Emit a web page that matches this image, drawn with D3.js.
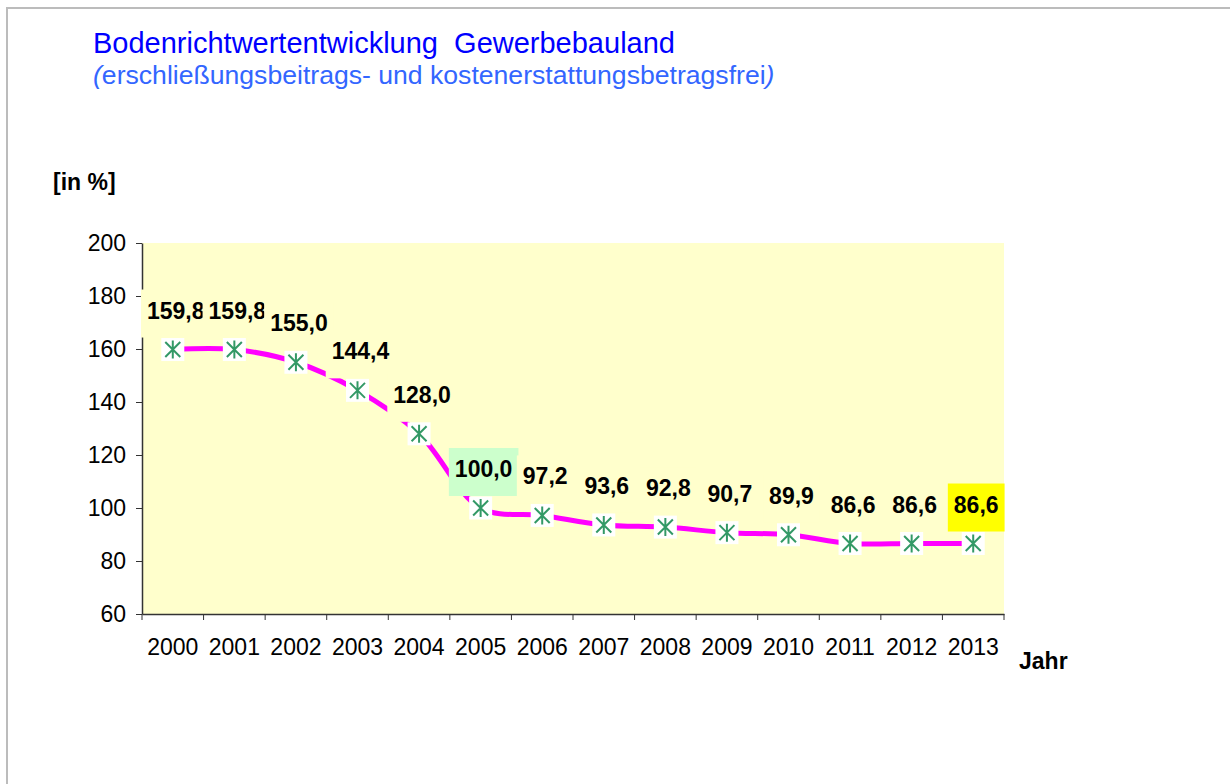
<!DOCTYPE html>
<html>
<head>
<meta charset="utf-8">
<script src="https://cdn.jsdelivr.net/npm/d3@7"></script>
<style>
  body { margin: 0; background: #fff; }
  text { font-family: "Liberation Sans", Arial, sans-serif; }
</style>
</head>
<body>
<div id="chart"></div>
<script>
const years = ["2000", "2001", "2002", "2003", "2004", "2005", "2006", "2007", "2008", "2009", "2010", "2011", "2012", "2013"];
const values = [159.8, 159.8, 155.0, 144.4, 128.0, 100.0, 97.2, 93.6, 92.8, 90.7, 89.9, 86.6, 86.6, 86.6];
const yTicks = [60, 80, 100, 120, 140, 160, 180, 200];

// highlighted label boxes
const labelFill = { "2005": "#ccffcc", "2013": "#ffff00" };

const width = 1230, height = 784;
const plot = { left: 142, top: 243, right: 1004, bottom: 614 };

const svg = d3.select("#chart").append("svg")
  .attr("width", width)
  .attr("height", height);

// outer frame
svg.append("rect")
  .attr("x", 7).attr("y", 8)
  .attr("width", width).attr("height", height)
  .attr("fill", "none")
  .attr("stroke", "#bcbcbc")
  .attr("stroke-width", 2);

svg.append("text")
  .attr("x", 93).attr("y", 53)
  .attr("fill", "#0000ff")
  .style("font-size", "29px")
  .attr("xml:space", "preserve")
  .text("Bodenrichtwertentwicklung  Gewerbebauland");

const sub = svg.append("text")
  .attr("x", 93).attr("y", 84)
  .attr("fill", "#3366ff")
  .style("font-size", "26.6px");
sub.append("tspan").style("font-style", "italic").text("(");
sub.append("tspan").text("erschließungsbeitrags- und kostenerstattungsbetragsfrei");
sub.append("tspan").style("font-style", "italic").text(")");

const x = d3.scaleBand()
  .domain(years)
  .range([plot.left, plot.right]);

const y = d3.scaleLinear()
  .domain([60, 200])
  .range([plot.bottom, plot.top]);

svg.append("rect")
  .attr("x", plot.left).attr("y", plot.top)
  .attr("width", plot.right - plot.left)
  .attr("height", plot.bottom - plot.top)
  .attr("fill", "#ffffcc");

// y axis
const yAxis = svg.append("g")
  .attr("transform", `translate(${plot.left},0)`)
  .call(d3.axisLeft(y).tickValues(yTicks).tickSize(6).tickPadding(10).tickSizeOuter(0));
yAxis.selectAll("text").style("font-size", "23px").attr("fill", "#000");

// x axis, ticks at the category edges
const xAxis = svg.append("g")
  .attr("transform", `translate(0,${plot.bottom})`)
  .call(d3.axisBottom(x).tickSize(0).tickPadding(25).tickSizeOuter(0));
xAxis.selectAll("text").style("font-size", "23px").attr("fill", "#000");
xAxis.selectAll(".tick line").remove();
xAxis.selectAll("edgeTicks")
  .data(years.concat(["end"]))
  .enter()
  .append("line")
  .attr("x1", (d, i) => i < years.length ? x(d) : plot.right)
  .attr("x2", (d, i) => i < years.length ? x(d) : plot.right)
  .attr("y1", 0)
  .attr("y2", 6)
  .attr("stroke", "#333");
svg.selectAll(".domain").attr("stroke", "#333").attr("stroke-width", 1.5);
svg.selectAll(".tick line").attr("stroke", "#333");

svg.append("text")
  .attr("x", 53).attr("y", 190)
  .style("font-size", "23px")
  .style("font-weight", "bold")
  .text("[in %]");

svg.append("text")
  .attr("x", 1019).attr("y", 669)
  .style("font-size", "23px")
  .style("font-weight", "bold")
  .text("Jahr");

const cx = (d) => x(d) + x.bandwidth() / 2;

// smoothed line
const line = d3.line()
  .x((d, i) => cx(years[i]))
  .y((d) => y(d))
  .curve(d3.curveCatmullRom.alpha(0.5));

svg.append("path")
  .datum(values)
  .attr("d", line)
  .attr("fill", "none")
  .attr("stroke", "#ff00ff")
  .attr("stroke-width", 5);

// markers: white square with green asterisk
const markers = svg.selectAll(".marker")
  .data(values)
  .enter()
  .append("g")
  .attr("class", "marker")
  .attr("transform", (d, i) => `translate(${cx(years[i])},${y(d)})`);
markers.append("rect")
  .attr("x", -11.5).attr("y", -11.5)
  .attr("width", 23).attr("height", 23)
  .attr("fill", "#fff");
markers.append("path")
  .attr("d", "M0,-9V9M-7.5,-7.5L7.5,7.5M-7.5,7.5L7.5,-7.5")
  .attr("stroke", "#339966")
  .attr("stroke-width", 2)
  .attr("fill", "none");

// data labels with boxes
values.forEach((v, i) => {
  const g = svg.append("g");
  const box = g.append("rect");
  const t = g.append("text")
    .attr("x", cx(years[i]) + 3)
    .attr("y", y(v) - 31)
    .attr("text-anchor", "middle")
    .style("font-size", "23px")
    .style("font-weight", "bold")
    .text(d3.format(".1f")(v).replace(".", ","));
  const bb = t.node().getBBox();
  box.attr("x", bb.x - 6)
    .attr("y", y(v) - 31 - 29)
    .attr("width", bb.width + 12)
    .attr("height", 48)
    .attr("fill", labelFill[years[i]] || "#ffffcc");
});
</script>
</body>
</html>
